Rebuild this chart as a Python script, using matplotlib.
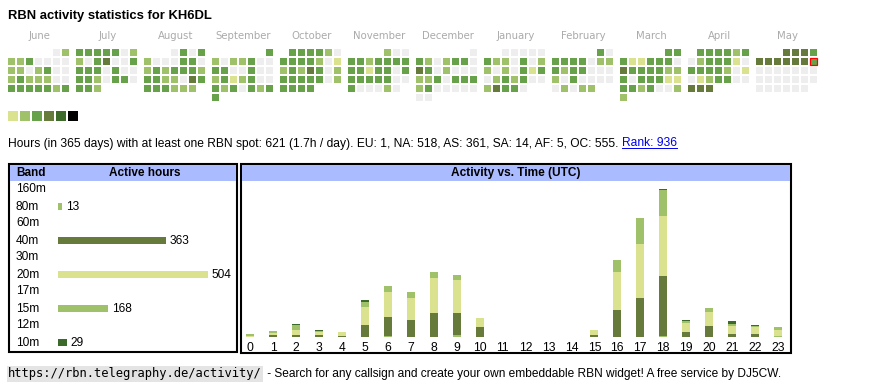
from matplotlib import pyplot as plt
from matplotlib.patches import Rectangle
import numpy as np

plt.rcParams['font.family'] = ['Liberation Sans', 'DejaVu Sans']

W, H = 870, 390

title = 'RBN activity statistics for KH6DL'

months = ['June', 'July', 'August', 'September', 'October', 'November',
          'December', 'January', 'February', 'March', 'April', 'May']
first_weekday = [5, 0, 3, 6, 1, 4, 6, 2, 5, 5, 1, 3]  # Mon = 0
# activity level per day (0 = none), weeks split by spaces
day_levels = [
    '02 2230000 2202300 2322200 3333323',
    '3333302 2034003 3330300 3320330 332',
    '0303 2000330 2323332 3322043 333222',
    '3 2022300 3300300 2312300 3230323 3',
    '333320 3333201 2324302 3333302 3333',
    '200 3323333 3313303 3333300 300020',
    '0 3202330 4302000 2230333 2300000 00',
    '00000 3220302 2020313 0232300 24330',
    '30 3333022 3233000 2030000 02022',
    '33 3113330 4333322 3033311 3323002 2',
    '333323 0233310 3333201 0123300 444',
    '4443 4444443 0000000 0000000 000000',
]
today_month, today_day = 11, 11

level_colors = ['#eeeeee', '#dbe28f', '#9fc16a', '#67a24a', '#657a3b', '#3b6a2a', '#000000']

summary = ('Hours (in 365 days) with at least one RBN spot: 621 (1.7h / day). '
           'EU: 1, NA: 518, AS: 361, SA: 14, AF: 5, OC: 555. ')
rank_text = 'Rank: 936'

bands = ['160m', '80m', '60m', '40m', '30m', '20m', '17m', '15m', '12m', '10m']
band_hours = [0, 13, 0, 363, 0, 504, 0, 168, 0, 29]
band_colors = {'160m': '#000000', '80m': '#9fc16a', '60m': '#000000', '40m': '#657a3b',
               '30m': '#000000', '20m': '#dbe28f', '17m': '#000000', '15m': '#9fc16a',
               '12m': '#000000', '10m': '#3b6a2a'}

hours = list(range(24))
stack_bands = ['80m', '40m', '20m', '15m', '10m']
hourly = {
    '80m': [0, 0, 0, 0, 0, 0, 1, 0, 0, 3, 0, 0, 0, 0, 0, 0, 0, 0, 1, 0, 0, 0, 0, 1],
    '40m': [0, 3, 3, 3, 1, 16, 27, 23, 34, 31, 14, 0, 0, 0, 0, 3, 37, 54, 84, 7, 15, 4, 4, 0],
    '20m': [1, 2, 7, 3, 5, 26, 35, 31, 49, 46, 13, 0, 0, 0, 0, 7, 54, 77, 86, 13, 20, 11, 9, 9],
    '15m': [3, 3, 6, 2, 1, 7, 8, 9, 9, 7, 0, 0, 0, 0, 0, 0, 17, 36, 36, 2, 6, 3, 2, 3],
    '10m': [0, 0, 2, 2, 0, 3, 0, 0, 0, 0, 0, 0, 0, 0, 0, 0, 0, 0, 1, 2, 0, 4, 1, 1],
}

header_blue = '#aabbff'


def px_axes(fig, x0, y0, x1, y1):
    # axes placed in pixel coords, origin top-left
    return fig.add_axes([x0 / W, 1 - y1 / H, (x1 - x0) / W, (y1 - y0) / H])


fig = plt.figure(figsize=(W / 100, H / 100), dpi=100)
canvas = fig.add_axes([0, 0, 1, 1])
canvas.set_xlim(0, W)
canvas.set_ylim(H, 0)
canvas.axis('off')

canvas.text(8, 19, title, fontsize=9.4, fontweight='bold', va='baseline')

# calendar
for m, (start, levels) in enumerate(zip(first_weekday, day_levels)):
    x0 = 8 + 68 * m
    canvas.text(x0 + 31.5, 39, months[m], ha='center', va='baseline',
                color='#aaaaaa', fontsize=7.3, family='DejaVu Sans')
    for d, lv in enumerate(levels.replace(' ', '')):
        row, col = divmod(start + d, 7)
        canvas.add_patch(Rectangle((x0 + 9 * col, 49 + 9 * row), 7, 7,
                                   facecolor=level_colors[int(lv)], lw=0))
        if m == today_month and d + 1 == today_day:
            canvas.add_patch(Rectangle((x0 + 9 * col, 49 + 9 * row), 7, 7,
                                       facecolor='none', edgecolor='red', lw=0.9))

for i, c in enumerate(level_colors[1:]):
    canvas.add_patch(Rectangle((8 + 12 * i, 111), 10, 10, facecolor=c, lw=0))

t_sum = canvas.text(8, 146.5, summary, fontsize=8.65, va='baseline')

# boxes
canvas.add_patch(Rectangle((9, 164), 228, 188, facecolor='white', edgecolor='black', lw=1.5))
canvas.add_patch(Rectangle((10, 165), 226, 15.5, facecolor=header_blue, lw=0))
canvas.text(16, 173, 'Band', fontsize=8.5, fontweight='bold', va='center')
canvas.text(144.5, 173, 'Active hours', fontsize=8.5, fontweight='bold', va='center', ha='center')

canvas.add_patch(Rectangle((241, 164), 550, 189, facecolor='white', edgecolor='black', lw=1.5))
canvas.add_patch(Rectangle((242, 165), 548, 15.5, facecolor=header_blue, lw=0))
canvas.text(516, 173, 'Activity vs. Time (UTC)', fontsize=8.6, fontweight='bold',
            va='center', ha='center')

# band table
ax_b = px_axes(fig, 10, 181, 236, 351)
k = max(band_hours) / 150.0
y = np.arange(len(bands))
ax_b.barh(y, band_hours, height=0.4, color=[band_colors[b] for b in bands])
for i, (b, v) in enumerate(zip(bands, band_hours)):
    ax_b.text(-(58 - 16) * k, i, b, va='center', ha='left', fontsize=8.6)
    if v > 0:
        ax_b.text(v + 4 * k, i, str(v), va='center', ha='left', fontsize=8.6)
ax_b.set_xlim(-(58 - 10) * k, (236 - 58) * k)
ax_b.set_ylim(len(bands) - 0.5, -0.5)
ax_b.axis('off')

# activity vs time
ax_t = px_axes(fig, 242, 181, 790, 336.7)
bottom = np.zeros(len(hours))
for b in stack_bands:
    vals = np.array(hourly[b])
    ax_t.bar(hours, vals, bottom=bottom, width=0.35, color=band_colors[b], lw=0)
    bottom += vals
ax_t.set_xlim(-0.35, 23.52)
ax_t.set_ylim(0, bottom.max() * (336.7 - 181) / (336.7 - 189.3))
ax_t.set_xticks(hours)
ax_t.set_xticklabels([str(h) for h in hours], fontsize=8.7)
ax_t.tick_params(axis='x', length=0, pad=3.5)
ax_t.set_yticks([])
for s in ax_t.spines.values():
    s.set_visible(False)
ax_t.patch.set_alpha(0)

# bottom line
t_url = canvas.text(8, 374, 'https://rbn.telegraphy.de/activity/', family='DejaVu Sans Mono',
                    fontsize=8.7, va='center',
                    bbox=dict(facecolor='#e4e4e4', edgecolor='none', pad=1))

fig.canvas.draw()
r = fig.canvas.get_renderer()
e_sum = t_sum.get_window_extent(r)
t_rank = canvas.text(e_sum.x1, 146.5, rank_text, fontsize=8.65, va='baseline', color='#0000ee')
fig.canvas.draw()
e_rank = t_rank.get_window_extent(r)
canvas.plot([e_rank.x0, e_rank.x1], [148.2, 148.2], color='#0000ee', lw=0.7)
e_url = t_url.get_window_extent(r)
canvas.text(e_url.x1 + 2, 374, ' - Search for any callsign and create your own embeddable RBN widget! '
            'A free service by DJ5CW.', fontsize=8.6, va='center')

fig.savefig('out.png', dpi=100)
